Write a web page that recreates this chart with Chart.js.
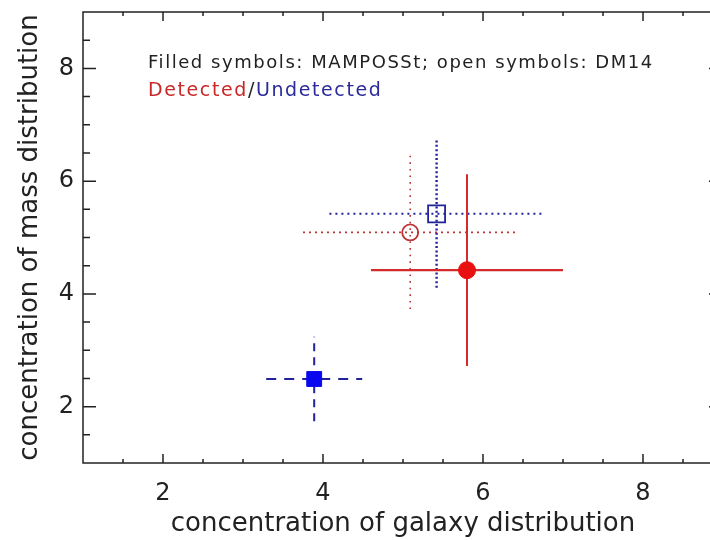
<!DOCTYPE html>
<html>
<head>
<meta charset="utf-8">
<script src="https://cdn.jsdelivr.net/npm/chart.js@4/dist/chart.umd.min.js"></script>
<style>
  html, body { margin: 0; padding: 0; background: #fff; overflow: hidden; }
</style>
</head>
<body>
<canvas id="graph" width="740" height="540"></canvas>
<script>
// concentrations: [MAMPOSSt detected, MAMPOSSt undetected, DM14 detected, DM14 undetected]
const galaxyC = [5.80, 3.89, 5.09, 5.42];
const massC = [4.42, 2.49, 5.09, 5.42];
const galaxyErr = [1.20, 0.60, 1.34, 1.34];
const massErr = [1.70, 0.75, 1.36, 1.31];

const xTicks = [2, 4, 6, 8];
const yTicks = [2, 4, 6, 8];

const RED = "#e81010";
const BLUE = "#0808f0";
const NAVY = "#22229a";
const INK = "#222";
const CLEAR = "rgba(0,0,0,0)";

// one style per point, same order as the arrays above
const styles = [
  { color: "#d42a2a", fill: RED, xDash: [], yDash: [], xw: 2.2, yw: 2, shape: "circle", radius: 8.5 },
  { color: NAVY, fill: BLUE, xDash: [10, 8], yDash: [8, 6], xw: 2, yw: 2, shape: "rect", radius: 10.5 },
  { color: "#bb3535", fill: CLEAR, xDash: [2, 4], yDash: [1.6, 5], xw: 1.8, yw: 1.6, shape: "circle", radius: 8 },
  { color: NAVY, fill: CLEAR, xDash: [2, 4], yDash: [2, 2.4], xw: 2, yw: 2.4, shape: "rect", radius: 12 },
];

const datasets = [];
galaxyC.forEach((x, i) => {
  const y = massC[i];
  const s = styles[i];
  const bar = { type: "scatter", showLine: true, borderColor: s.color, pointRadius: 0, order: 2 };
  datasets.push(Object.assign({}, bar, {
    borderWidth: s.xw,
    borderDash: s.xDash,
    data: [{ x: x - galaxyErr[i], y: y }, { x: x + galaxyErr[i], y: y }],
  }));
  datasets.push(Object.assign({}, bar, {
    borderWidth: s.yw,
    borderDash: s.yDash,
    data: [{ x: x, y: y - massErr[i] }, { x: x, y: y + massErr[i] }],
  }));
});
galaxyC.forEach((x, i) => {
  const s = styles[i];
  const open = s.fill === CLEAR;
  datasets.push({
    type: "scatter",
    data: [{ x: x, y: massC[i] }],
    pointStyle: s.shape,
    pointRadius: s.radius,
    pointBackgroundColor: s.fill,
    pointBorderColor: open ? s.color : s.fill,
    pointBorderWidth: open ? 1.8 : 1,
    order: 1,
  });
});

// box with inward ticks on all four sides
const frame = {
  id: "frame",
  afterDatasetsDraw(chart) {
    const { ctx, chartArea: a, scales } = chart;
    ctx.save();
    ctx.strokeStyle = INK;
    ctx.lineWidth = 1.5;
    ctx.strokeRect(a.left, a.top, a.right - a.left, a.bottom - a.top);
    ctx.beginPath();
    for (let v = 1.5; v < 9; v += 0.5) {
      const major = xTicks.includes(v);
      const px = scales.x.getPixelForValue(v);
      const lx = major ? 9 : 4;
      ctx.moveTo(px, a.bottom); ctx.lineTo(px, a.bottom - lx);
      ctx.moveTo(px, a.top); ctx.lineTo(px, a.top + lx);
      const py = scales.y.getPixelForValue(v);
      const ly = major ? 13 : 7;
      ctx.moveTo(a.left, py); ctx.lineTo(a.left + ly, py);
      ctx.moveTo(a.right, py); ctx.lineTo(a.right - ly - 1, py);
    }
    ctx.stroke();

    // note in the upper left
    ctx.textBaseline = "alphabetic";
    ctx.textAlign = "left";
    ctx.font = "18px 'DejaVu Sans'";
    ctx.letterSpacing = "1.55px";
    ctx.fillStyle = INK;
    ctx.fillText("Filled symbols: MAMPOSSt; open symbols: DM14", 148, 68);
    ctx.font = "19px 'DejaVu Sans'";
    ctx.letterSpacing = "1.6px";
    let x = 148;
    const parts = [["Detected", "#c82828"], ["/", INK], ["Undetected", "#2a2a9a"]];
    parts.forEach(([t, c]) => {
      ctx.fillStyle = c;
      ctx.fillText(t, x, 96);
      x += ctx.measureText(t).width;
    });
    ctx.restore();
  },
};

const tickFont = { family: "DejaVu Sans", size: 24 };
const titleFont = { family: "DejaVu Sans", size: 26 };

new Chart(document.getElementById("graph"), {
  type: "scatter",
  data: { datasets: datasets },
  plugins: [frame],
  options: {
    responsive: false,
    animation: false,
    // canvas is wider than the page, so the right side of the box falls off the edge
    layout: { autoPadding: false, padding: { top: 12, right: 17, left: 0, bottom: 0 } },
    plugins: { legend: { display: false }, tooltip: { enabled: false } },
    scales: {
      x: {
        type: "linear",
        min: 1,
        max: 9,
        grid: { display: false, drawTicks: false },
        border: { display: false },
        ticks: { font: tickFont, color: INK, padding: 16 },
        afterBuildTicks: (s) => { s.ticks = xTicks.map((v) => ({ value: v })); },
        afterFit: (s) => { s.height = 77; s.paddingLeft = 0; s.paddingRight = 0; },
        title: { display: true, text: "concentration of galaxy distribution", font: titleFont, color: INK, padding: 0 },
      },
      y: {
        type: "linear",
        min: 1,
        max: 9,
        grid: { display: false, drawTicks: false },
        border: { display: false },
        ticks: { font: tickFont, color: INK, padding: 9 },
        afterBuildTicks: (s) => { s.ticks = yTicks.map((v) => ({ value: v })); },
        afterFit: (s) => { s.width = 83; s.paddingTop = 0; s.paddingBottom = 0; },
        title: { display: true, text: "concentration of mass distribution", font: titleFont, color: INK, padding: { top: 15 } },
      },
    },
  },
});
</script>
</body>
</html>
